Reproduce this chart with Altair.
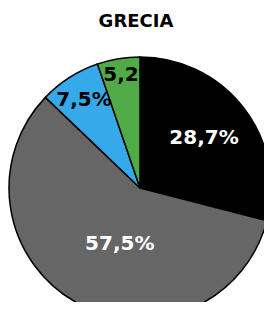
import altair as alt
import pandas as pd

categories = ["cat1", "cat2", "cat3", "cat4"]
values = [28.7, 57.5, 7.5, 5.2]
labels = ["28,7%", "57,5%", "7,5%", "5,2%"]
colors = ["#000000", "#666666", "#36a9ea", "#50aa46"]
label_colors = ["#ffffff", "#ffffff", "#000000", "#000000"]

df = pd.DataFrame({
    "cat": categories,
    "value": values,
    "label": labels,
    "idx": list(range(len(categories))),
})

base = alt.Chart(df).encode(
    theta=alt.Theta("value:Q", stack=True),
    order=alt.Order("idx:Q", sort="ascending"),
)

CX, CY = 132, 144

pie = base.mark_arc(radius=131, stroke="#000000", strokeWidth=1.5).encode(
    x=alt.value(CX), y=alt.value(CY),
    color=alt.Color("cat:N", scale=alt.Scale(domain=categories, range=colors), legend=None),
)

# per-label placement (radius, dx, dy)
placements = [(81, 0, 0), (60, 9, 4), (104, 0, 0), (115, 10, 0)]

layers = [pie]
for i, (r, dx, dy) in enumerate(placements):
    t = base.mark_text(
        radius=r, dx=dx, dy=dy, font="DejaVu Sans", fontWeight="bold", fontSize=20,
        color=label_colors[i], align="center", baseline="middle",
    ).encode(
        x=alt.value(CX), y=alt.value(CY),
        text=alt.condition(f"datum.idx == {i}", "label:N", alt.value("")),
    )
    layers.append(t)

chart = alt.layer(*layers).properties(
    width=256, height=258,
    autosize=alt.AutoSizeParams(type="none"),
    padding={"left": 0, "top": 36, "right": 0, "bottom": 0},
    title=alt.TitleParams("GRECIA", font="DejaVu Sans", fontSize=18, fontWeight="bold",
                          anchor="middle", baseline="alphabetic", offset=-1, color="#000000"),
).configure_view(stroke=None)

chart.save("out.html", embed_options={"renderer": "svg", "actions": False})
